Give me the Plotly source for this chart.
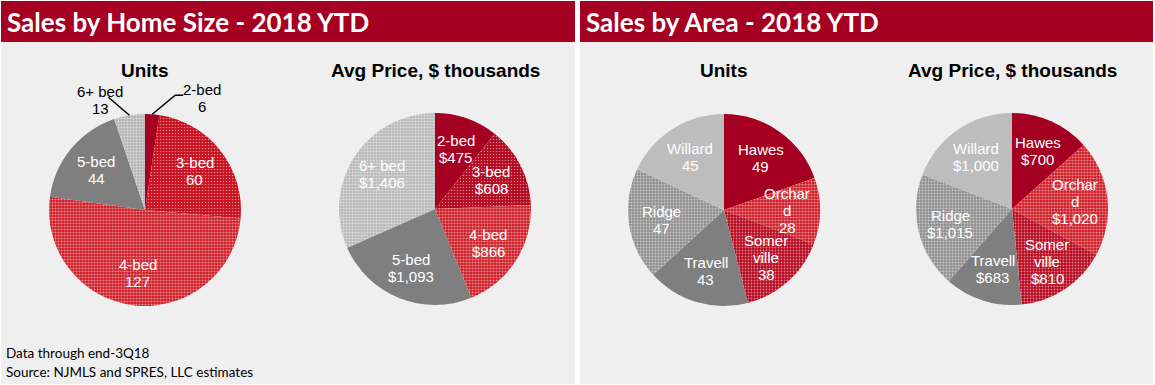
import math
import plotly.graph_objects as go

W, H = 1155, 385

# ---------------- data ----------------
size_labels = ["2-bed", "3-bed", "4-bed", "5-bed", "6+ bed"]
size_units = [6, 60, 127, 44, 13]
size_price = [475, 608, 866, 1093, 1406]

area_labels = ["Hawes", "Orchard", "Somerville", "Travell", "Ridge", "Willard"]
area_label_text = ["Hawes", "Orchar<br>d", "Somer<br>ville", "Travell", "Ridge", "Willard"]
area_units = [49, 28, 38, 43, 47, 45]
area_price = [700, 1020, 810, 683, 1015, 1000]

panel_titles = ["Sales by Home Size - 2018 YTD", "Sales by Area - 2018 YTD"]
pie_titles = ["Units", "Avg Price, $ thousands", "Units", "Avg Price, $ thousands"]
notes = ["Data through end-3Q18", "Source: NJMLS and SPRES, LLC estimates"]

# ---------------- style ----------------
DARK_RED = "#a50021"
BG = "#efefef"
# (base colour, pattern shape, pattern solidity)
size_style = [(DARK_RED, "", 0), ("#c8101e", ".", 0.22), ("#d01a24", ".", 0.38),
              ("#7f7f7f", "", 0), ("#b4b4b4", ".", 0.4)]
size_style_p = [(DARK_RED, "", 0), ("#b3081e", ".", 0.2), ("#d01a24", ".", 0.38),
                ("#7f7f7f", "", 0), ("#b8b8b8", ".", 0.4)]
area_style = [(DARK_RED, "", 0), ("#d01a24", ".", 0.38), ("#b8081e", ".", 0.28),
              ("#7f7f7f", "", 0), ("#8f8f8f", ".", 0.35), ("#bdbdbd", "", 0)]

centers = [(145, 210), (435, 209), (724, 210), (1012, 209)]
R = 96
K = 0.66
LINE = 17
FONT = "Liberation Sans, Arial"


def px(x):
    return x / W


def py(y):
    return 1 - y / H


fig = go.Figure()
annotations = []
shapes = []


def add_text(x, y, text, color):
    lines = text.split("<br>")
    n = len(lines)
    for j, ln in enumerate(lines):
        yy = y + (j - (n - 1) / 2) * LINE
        annotations.append(dict(
            x=px(x), y=py(yy), xref="paper", yref="paper", text=ln,
            showarrow=False, font=dict(family=FONT, size=15, color=color),
            xanchor="center", yanchor="middle"))


def add_pie(values, labels, texts, style, center, skip_inside=()):
    cx, cy = center
    fig.add_trace(go.Pie(
        values=values, labels=labels, sort=False, direction="clockwise",
        rotation=0, textinfo="none", hoverinfo="label+value",
        marker=dict(colors=[s[0] for s in style], line=dict(width=0),
                    pattern=dict(shape=[s[1] for s in style],
                                 solidity=[max(s[2], 0.1) for s in style],
                                 fgcolor="white", size=3, fillmode="overlay")),
        domain=dict(x=[px(cx - R), px(cx + R)], y=[py(cy + R), py(cy - R)]),
        showlegend=False,
    ))
    total = sum(values)
    cum = 0
    mids = []
    for v in values:
        mids.append((cum + v / 2) / total * 2 * math.pi)
        cum += v
    for i, (mid, t) in enumerate(zip(mids, texts)):
        if i in skip_inside:
            continue
        add_text(cx + K * R * math.sin(mid), cy - K * R * math.cos(mid), t, "white")
    return mids


# pie 1 : units by size (small slices labelled outside with leader lines)
t1 = [f"{l}<br>{v}" for l, v in zip(size_labels, size_units)]
mids = add_pie(size_units, size_labels, t1, size_style, centers[0], skip_inside=(0, 4))
cx, cy = centers[0]
leaders = {
    0: ([(23, -19), (31, -19)], (50, -16)),
    4: ([(-21, -18)], (-29, -15)),
}
for i, (pts, (tx, ty)) in leaders.items():
    ex = cx + R * math.sin(mids[i])
    ey = cy - R * math.cos(mids[i])
    path = f"M {px(ex)} {py(ey)}"
    for dx, dy in pts:
        path += f" L {px(ex + dx)} {py(ey + dy)}"
    shapes.append(dict(type="path", xref="paper", yref="paper", path=path,
                       line=dict(color="black", width=1.5)))
    add_text(ex + tx, ey + ty, t1[i], "black")

# pie 2 : price by size
t2 = [f"{l}<br>${v:,}" for l, v in zip(size_labels, size_price)]
add_pie(size_price, size_labels, t2, size_style_p, centers[1])

# pie 3 : units by area
t3 = [f"{l}<br>{v}" for l, v in zip(area_label_text, area_units)]
add_pie(area_units, area_labels, t3, area_style, centers[2])

# pie 4 : price by area
t4 = [f"{l}<br>${v:,}" for l, v in zip(area_label_text, area_price)]
add_pie(area_price, area_labels, t4, area_style, centers[3])

# pie titles
for (cx, cy), t in zip(centers, pie_titles):
    annotations.append(dict(
        x=px(cx), y=py(70), xref="paper", yref="paper", text=f"<b>{t}</b>",
        showarrow=False, xanchor="center", yanchor="middle",
        font=dict(family=FONT, size=19, color="black")))

# panels and headers
panels = [(1, 575), (580, 1153)]
for (x0, x1), t in zip(panels, panel_titles):
    shapes.append(dict(type="rect", xref="paper", yref="paper",
                       x0=px(x0), x1=px(x1), y0=py(384), y1=py(1),
                       fillcolor=BG, line=dict(width=0), layer="below"))
    shapes.append(dict(type="rect", xref="paper", yref="paper",
                       x0=px(x0), x1=px(x1), y0=py(42), y1=py(1),
                       fillcolor=DARK_RED, line=dict(width=0), layer="below"))
    annotations.append(dict(
        x=px(x0 + 4), y=py(22), xref="paper", yref="paper", text=f"<b>{t}</b>",
        showarrow=False, xanchor="left", yanchor="middle",
        font=dict(family="Lato", size=26, color="white")))

for yy, t in zip([353, 372], notes):
    annotations.append(dict(
        x=px(4), y=py(yy), xref="paper", yref="paper", text=t,
        showarrow=False, xanchor="left", yanchor="middle",
        font=dict(family="Lato", size=13.5, color="black")))

fig.update_layout(
    width=W, height=H, autosize=False,
    margin=dict(l=0, r=0, t=0, b=0),
    paper_bgcolor="white", plot_bgcolor="white",
    shapes=shapes, annotations=annotations,
)

fig.write_html("out.html", config={"displayModeBar": False},
               post_script="document.body.style.margin='0';document.body.style.overflow='hidden';")
